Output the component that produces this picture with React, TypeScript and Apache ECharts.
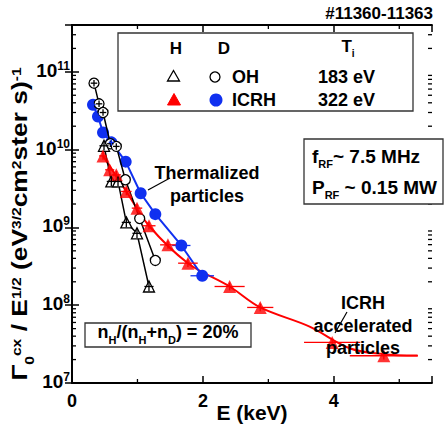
import React, { useEffect, useRef } from 'react';
import * as echarts from 'echarts';

// ---------- data ----------
// H, OH (open triangles)
const H_OH_E = [0.489, 0.601, 0.703, 0.83, 0.993, 1.176];
const H_OH_V = [1.12e10, 3.9e9, 3.9e9, 1.16e9, 8.4e8, 1.74e8];
const H_OH_XERR = [0.07, 0.07, 0.06, 0.07, 0.07, 0.07];
const H_OH_YERR = [1.15, 1.15, 1.15, 1.15, 1.15, 1.15];

// D, OH (open circles)
const D_OH_E = [0.336, 0.413, 0.474, 0.586, 0.677, 0.815, 1.034, 1.273];
const D_OH_V = [7.15e10, 3.88e10, 3.0e10, 1.19e10, 1.1e10, 4.1e9, 1.3e9, 3.76e8];
const D_OH_XERR = [0.05, 0.05, 0.05, 0.05, 0.05, 0.0, 0.0, 0.0];
const D_OH_YERR = [1.1, 1.1, 1.1, 1.1, 1.1, 1.0, 1.0, 1.0];

// D, ICRH (filled blue circles)
const D_ICRH_E = [0.321, 0.397, 0.474, 0.601, 0.82, 1.049, 1.273, 1.67, 1.99];
const D_ICRH_V = [3.77e10, 2.67e10, 1.66e10, 1.24e10, 7.0e9, 2.75e9, 1.48e9, 5.86e8, 2.39e8];
const D_ICRH_XERR = [0.04, 0.04, 0.04, 0.04, 0.05, 0.05, 0.06, 0.14, 0.18];
const D_ICRH_YERR = [1.1, 1.1, 1.1, 1.1, 1.1, 1.1, 1.1, 1.1, 1.1];

// H, ICRH (filled red triangles)
const H_ICRH_E = [0.474, 0.576, 0.677, 0.83, 0.993, 1.176, 1.466, 1.771, 2.408, 2.876, 3.975, 4.764];
const H_ICRH_V = [8.3e9, 5.5e9, 4.74e9, 2.9e9, 1.77e9, 1.05e9, 5.97e8, 3.47e8, 1.74e8, 9.36e7, 3.32e7, 2.24e7];
const H_ICRH_XERR = [0.06, 0.07, 0.07, 0.08, 0.08, 0.1, 0.12, 0.15, 0.23, 0.2, 0.43, 0.52];
const H_ICRH_YERR = [1.12, 1.12, 1.12, 1.12, 1.12, 1.12, 1.12, 1.12, 1.12, 1.12, 1.12, 1.12];

// red fitted curve
const FIT_E = [0.474, 0.83, 1.176, 1.771, 2.408, 2.876, 3.63, 4.24, 4.75, 5.28];
const FIT_V = [8.3e9, 2.9e9, 1.05e9, 3.47e8, 1.74e8, 9.36e7, 5.3e7, 2.8e7, 2.35e7, 2.25e7];

// axes
const X_MIN = 0;
const X_MAX = 5.5;
const X_MAJOR = 2;
const X_MINOR = [1, 3, 5];
const Y_MIN = 1e7;
const Y_MAX = 4e11;
const Y_DECADES = [7, 8, 9, 10, 11];
const Y_MULT = [2, 3, 4, 5, 6, 7, 8, 9];

const F = '"Liberation Sans", Arial, Helvetica, sans-serif';
const RED = '#ff0000';
const BLUE = '#1030f0';

const zip = (e: number[], v: number[]) => e.map((x, i) => [x, v[i]]);
const errData = (e: number[], v: number[], xe: number[], ye: number[]) =>
  e.map((x, i) => [x, v[i], xe[i], ye[i]]);

function richSet(fs: number) {
  return {
    m: { fontSize: fs, fontWeight: 'bold', fontFamily: F, color: '#000', verticalAlign: 'bottom', padding: [0, 0, Math.round(fs * 0.23), 0] },
    sub: { fontSize: Math.round(fs * 0.6), fontWeight: 'bold', fontFamily: F, color: '#000', verticalAlign: 'bottom', padding: [0, 0, 0, 0] },
    sup: { fontSize: Math.round(fs * 0.6), fontWeight: 'bold', fontFamily: F, color: '#000', verticalAlign: 'bottom', padding: [0, 0, Math.round(fs * 0.6), 0] },
  };
}

function errRender(color: string) {
  return (params: any, api: any) => {
    const e = api.value(0);
    const v = api.value(1);
    const dx = api.value(2);
    const fy = api.value(3);
    const a = api.coord([e - dx, v]);
    const b = api.coord([e + dx, v]);
    const c = api.coord([e, v / fy]);
    const d = api.coord([e, v * fy]);
    return {
      type: 'group',
      children: [
        { type: 'line', shape: { x1: a[0], y1: a[1], x2: b[0], y2: b[1] }, style: { stroke: color, lineWidth: 1.3 } },
        { type: 'line', shape: { x1: c[0], y1: c[1], x2: d[0], y2: d[1] }, style: { stroke: color, lineWidth: 1.3 } },
      ],
    };
  };
}

function txt(x: number, y: number, text: string, fs: number, align = 'center', extra: any = {}) {
  return {
    type: 'text',
    x,
    y,
    z: 20,
    style: {
      text,
      fill: '#000',
      fontSize: fs,
      fontWeight: 'bold',
      fontFamily: F,
      textAlign: align,
      align,
      textVerticalAlign: 'middle',
      verticalAlign: 'middle',
      ...extra,
    },
  };
}

function buildOption() {
  const minorY: number[] = [];
  Y_DECADES.forEach((d) => Y_MULT.forEach((m) => {
    const v = m * Math.pow(10, d);
    if (v < Y_MAX) minorY.push(v);
  }));
  const minorData: number[][] = [];
  minorY.forEach((v) => { minorData.push([X_MIN, v, 0]); minorData.push([X_MAX, v, 1]); });
  X_MINOR.forEach((x) => { minorData.push([x, Y_MIN, 2]); minorData.push([x, Y_MAX, 3]); });

  const axisLine = { show: true, lineStyle: { color: '#000', width: 1.8 } };
  const tick = { show: true, inside: true, length: 7, lineStyle: { color: '#000', width: 1.5 } };

  const yRich = {
    b: { fontSize: 19, fontWeight: 'bold', fontFamily: F, color: '#000', verticalAlign: 'bottom', padding: [0, 0, 4, 0] },
    s: { fontSize: 12, fontWeight: 'bold', fontFamily: F, color: '#000', verticalAlign: 'bottom', padding: [0, 0, 12, 0] },
  };

  const titleRich = richSet(22);

  return {
    animation: false,
    backgroundColor: '#fff',
    grid: { left: 72, right: 12, top: 25, bottom: 44, containLabel: false },
    xAxis: [
      {
        type: 'value', min: X_MIN, max: X_MAX, interval: X_MAJOR, position: 'bottom',
        axisLine, axisTick: tick, splitLine: { show: false },
        axisLabel: {
          margin: 9, color: '#000', fontSize: 18, fontWeight: 'bold', fontFamily: F,
          formatter: (v: number) => (Math.abs(v % X_MAJOR) < 1e-9 && v < X_MAX ? String(v) : ''),
        },
      },
      {
        type: 'value', min: X_MIN, max: X_MAX, interval: X_MAJOR, position: 'top',
        axisLine, axisTick: tick, splitLine: { show: false }, axisLabel: { show: false },
      },
    ],
    yAxis: [
      {
        type: 'log', logBase: 10, min: Y_MIN, max: Y_MAX, position: 'left',
        axisLine, axisTick: tick, splitLine: { show: false }, minorTick: { show: false },
        axisLabel: {
          margin: 2, rich: yRich,
          formatter: (v: number) => {
            const l = Math.log10(v);
            const e = Math.round(l);
            if (Math.abs(l - e) > 1e-6) return '';
            return `{b|10}{s|${e}}`;
          },
        },
      },
      {
        type: 'log', logBase: 10, min: Y_MIN, max: Y_MAX, position: 'right',
        axisLine, axisTick: tick, splitLine: { show: false }, axisLabel: { show: false },
      },
    ],
    series: [
      {
        type: 'custom', name: 'minor ticks', coordinateSystem: 'cartesian2d', silent: true, z: 6,
        data: minorData,
        renderItem: (params: any, api: any) => {
          const kind = api.value(2);
          const p = api.coord([api.value(0), api.value(1)]);
          let x2 = p[0];
          let y2 = p[1];
          if (kind === 0) x2 += 4; else if (kind === 1) x2 -= 4; else if (kind === 2) y2 -= 4; else y2 += 4;
          return { type: 'line', shape: { x1: p[0], y1: p[1], x2, y2 }, style: { stroke: '#000', lineWidth: 1.3 } };
        },
      },
      {
        type: 'line', name: 'H ICRH fit', data: zip(FIT_E, FIT_V), showSymbol: false, smooth: 0.35,
        lineStyle: { color: RED, width: 2 }, z: 2,
      },
      {
        type: 'line', name: 'D ICRH', data: zip(D_ICRH_E, D_ICRH_V), symbol: 'circle', symbolSize: 12,
        itemStyle: { color: BLUE }, lineStyle: { color: BLUE, width: 2 }, z: 3,
      },
      {
        type: 'line', name: 'D OH', data: zip(D_OH_E, D_OH_V), symbol: 'circle', symbolSize: 10,
        itemStyle: { color: '#fff', borderColor: '#000', borderWidth: 1.3 }, lineStyle: { color: '#000', width: 1.5 }, z: 4,
      },
      {
        type: 'line', name: 'H OH', data: zip(H_OH_E, H_OH_V), symbol: 'triangle', symbolSize: 11,
        itemStyle: { color: '#fff', borderColor: '#000', borderWidth: 1.3 }, lineStyle: { color: '#000', width: 1.5 }, z: 4,
      },
      {
        type: 'scatter', name: 'H ICRH', data: zip(H_ICRH_E, H_ICRH_V), symbol: 'triangle', symbolSize: 13,
        itemStyle: { color: RED }, z: 4,
      },
      { type: 'custom', name: 'err H OH', data: errData(H_OH_E, H_OH_V, H_OH_XERR, H_OH_YERR), renderItem: errRender('#000'), z: 5, silent: true },
      { type: 'custom', name: 'err D OH', data: errData(D_OH_E, D_OH_V, D_OH_XERR, D_OH_YERR), renderItem: errRender('#000'), z: 5, silent: true },
      { type: 'custom', name: 'err D ICRH', data: errData(D_ICRH_E, D_ICRH_V, D_ICRH_XERR, D_ICRH_YERR), renderItem: errRender(BLUE), z: 5, silent: true },
      { type: 'custom', name: 'err H ICRH', data: errData(H_ICRH_E, H_ICRH_V, H_ICRH_XERR, H_ICRH_YERR), renderItem: errRender(RED), z: 5, silent: true },
    ],
    graphic: [
      // title
      txt(433, 13, '#11360-11363', 17, 'right'),
      // legend box
      { type: 'rect', z: 15, shape: { x: 118, y: 33, width: 295, height: 78 }, style: { fill: '#fff', stroke: '#333', lineWidth: 1.3 } },
      txt(176, 48, 'H', 17),
      txt(224, 48, 'D', 17),
      txt(348, 48, '{m|T}{sub|i}', 17, 'center', { rich: richSet(17) }),
      { type: 'polygon', z: 20, shape: { points: [[173.5, 70.5], [179.5, 81], [167.5, 81]] }, style: { fill: '#fff', stroke: '#000', lineWidth: 1.3 } },
      { type: 'circle', z: 20, shape: { cx: 215, cy: 77, r: 5 }, style: { fill: '#fff', stroke: '#000', lineWidth: 1.3 } },
      { type: 'polygon', z: 20, shape: { points: [[174, 93.5], [180.5, 105], [167.5, 105]] }, style: { fill: RED, stroke: RED, lineWidth: 1 } },
      { type: 'circle', z: 20, shape: { cx: 216, cy: 100, r: 6.5 }, style: { fill: BLUE } },
      txt(232, 77, 'OH', 18, 'left'),
      txt(318, 77, '183 eV', 18, 'left'),
      txt(232, 100, 'ICRH', 18, 'left'),
      txt(318, 100, '322 eV', 18, 'left'),
      // RF box
      { type: 'rect', z: 15, shape: { x: 304, y: 139, width: 139, height: 65 }, style: { fill: '#fff', stroke: '#333', lineWidth: 1.3 } },
      txt(312, 158, '{m|f}{sub|RF}{m|~ 7.5 MHz}', 19, 'left', { rich: richSet(19) }),
      txt(312, 189, '{m|P}{sub|RF}{m| ~ 0.15 MW}', 19, 'left', { rich: richSet(19) }),
      // ratio box
      { type: 'rect', z: 15, shape: { x: 85, y: 323, width: 166, height: 24 }, style: { fill: '#fff', stroke: '#333', lineWidth: 1.3 } },
      txt(168, 334, '{m|n}{sub|H}{m|/(n}{sub|H}{m|+n}{sub|D}{m|) = 20%}', 18, 'center', { rich: richSet(18) }),
      // annotations
      txt(207, 173, 'Thermalized', 18),
      txt(207, 196, 'particles', 18),
      { type: 'line', z: 20, shape: { x1: 148, y1: 190, x2: 170, y2: 178 }, style: { stroke: '#000', lineWidth: 1.2 } },
      txt(363, 303, 'ICRH', 18),
      txt(363, 326, 'accelerated', 18),
      txt(363, 348, 'particles', 18),
      { type: 'line', z: 20, shape: { x1: 335, y1: 333, x2: 347, y2: 312 }, style: { stroke: '#000', lineWidth: 1.2 } },
      // x axis name
      txt(252, 412, 'E (keV)', 21),
      // y axis name
      {
        type: 'text', x: 22, y: 224, rotation: Math.PI / 2, scaleX: 1.2, z: 20,
        style: {
          text: '{m|Γ}{sub|0}{sup|cx}{m| / E}{sup|1/2}{m| (eV}{sup|3/2}{m|cm}{sup|2}{m|ster s)}{sup|-1}',
          rich: titleRich,
          textAlign: 'center', align: 'center', textVerticalAlign: 'middle', verticalAlign: 'middle',
          fill: '#000', fontSize: 22, fontWeight: 'bold', fontFamily: F,
        },
      },
    ],
  };
}

export default function App() {
  const ref = useRef<HTMLDivElement>(null);
  useEffect(() => {
    if (!ref.current) return;
    const chart = echarts.init(ref.current, null, { renderer: 'svg' });
    chart.setOption(buildOption() as any);
    return () => chart.dispose();
  }, []);
  return (
    <div
      ref={ref}
      style={{ position: 'fixed', left: 0, top: 0, width: 444, height: 427, background: '#fff' }}
    />
  );
}
